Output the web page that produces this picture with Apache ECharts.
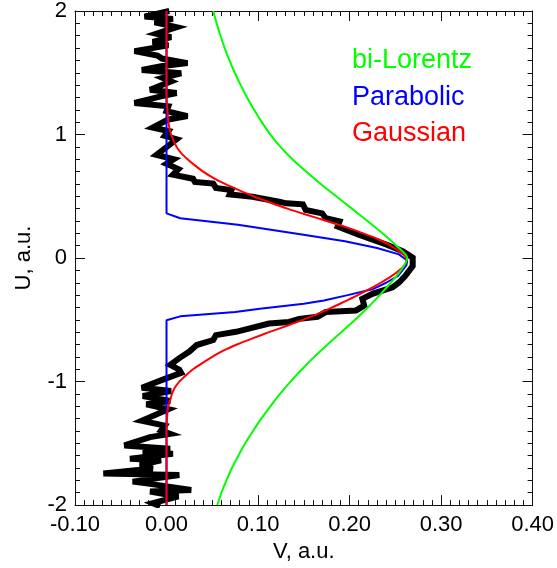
<!DOCTYPE html>
<html>
<head>
<meta charset="utf-8">
<script src="https://cdn.jsdelivr.net/npm/echarts@6/dist/echarts.min.js"></script>
<style>
html,body{margin:0;padding:0;background:#fff;}
#chart{width:557px;height:568px;}
</style>
</head>
<body>
<div id="chart"></div>
<script>
// ---- Data (x = V, y = U) ----
const xTicks = [-0.10, 0.00, 0.10, 0.20, 0.30, 0.40];
const yTicks = [-2, -1, 0, 1, 2];
const legendNames = ["bi-Lorentz", "Parabolic", "Gaussian"];

const dataU = [2.00,1.955,1.936,1.909,1.869,1.816,1.789,1.749,1.722,1.675,1.640,1.615,1.578,1.552,1.522,1.496,1.458,1.430,1.362,1.336,1.309,1.256,1.229,1.189,1.149,1.122,1.056,1.029,0.989,0.962,0.909,0.835,0.800,0.763,0.720,0.675,0.642,0.616,0.603,0.568,0.550,0.515,0.496,0.456,0.443,0.435,0.390,0.362,0.322,0.296,0.256,0.190,0.110,0.056,0.003,-0.064,-0.144,-0.198,-0.237,-0.290,-0.330,-0.384,-0.424,-0.437,-0.475,-0.492,-0.517,-0.530,-0.570,-0.597,-0.624,-0.664,-0.704,-0.757,-0.810,-0.864,-0.904,-0.930,-0.984,-1.050,-1.077,-1.117,-1.157,-1.184,-1.224,-1.317,-1.357,-1.397,-1.424,-1.450,-1.517,-1.544,-1.570,-1.584,-1.624,-1.637,-1.677,-1.704,-1.744,-1.757,-1.810,-1.824,-1.877,-1.890,-1.930,-1.984,-2.010];
const dataV = [0.003,-0.024,0.007,-0.013,0.011,-0.011,0.005,-0.015,0.002,-0.035,-0.010,-0.005,0.023,-0.006,-0.027,0.016,-0.004,0.005,-0.018,0.011,-0.006,-0.035,0.002,0.000,0.023,0.002,-0.015,0.002,-0.002,0.011,0.002,-0.011,0.008,0.000,0.013,0.007,0.029,0.031,0.051,0.054,0.071,0.069,0.094,0.123,0.131,0.149,0.152,0.170,0.174,0.189,0.187,0.210,0.240,0.258,0.269,0.269,0.261,0.254,0.247,0.225,0.214,0.216,0.207,0.174,0.165,0.145,0.134,0.112,0.091,0.076,0.054,0.051,0.033,0.025,0.014,0.004,0.014,0.016,-0.004,-0.027,0.005,-0.026,0.004,-0.022,0.002,-0.027,-0.002,-0.006,0.004,-0.018,-0.046,0.004,-0.026,0.007,-0.040,-0.006,-0.029,-0.015,-0.069,0.014,-0.037,-0.022,0.027,-0.018,0.013,-0.015,-0.007];

const lorU = [2.0,1.9,1.8,1.7,1.6,1.5,1.4,1.3,1.2,1.1,1.0,0.9,0.8,0.7,0.6,0.5,0.4,0.3,0.2,0.1,0.0,-0.1,-0.2,-0.3,-0.4,-0.5,-0.6,-0.7,-0.8,-0.9,-1.0,-1.1,-1.2,-1.3,-1.4,-1.5,-1.6,-1.7,-1.8,-1.9,-2.0];
const lorV = [0.0510,0.0548,0.0590,0.0636,0.0688,0.0746,0.0810,0.0880,0.0957,0.1041,0.1135,0.1245,0.1375,0.1525,0.1685,0.1855,0.2025,0.2195,0.2360,0.2510,0.2630,0.2560,0.2450,0.2330,0.2200,0.2060,0.1910,0.1760,0.1615,0.1480,0.1355,0.1240,0.1135,0.1035,0.0945,0.0860,0.0785,0.0715,0.0655,0.0600,0.0555];

const parU = [2.0,0.362,0.322,0.27,0.19,0.136,0.082,0.03,-0.02,-0.06,-0.144,-0.2,-0.25,-0.3,-0.344,-0.37,-0.41,-0.437,-0.472,-0.504,-2.0];
const parV = [0,0,0.015,0.078,0.148,0.195,0.230,0.254,0.263,0.262,0.253,0.240,0.226,0.198,0.172,0.150,0.102,0.075,0.015,0,0];

const gauU = [2.0,1.3,1.2,1.1,1.0,0.9,0.85,0.8,0.75,0.7,0.65,0.6,0.55,0.5,0.45,0.4,0.35,0.3,0.25,0.2,0.15,0.1,0.05,0.0,-0.05,-0.1,-0.15,-0.2,-0.25,-0.3,-0.35,-0.4,-0.45,-0.5,-0.55,-0.6,-0.65,-0.7,-0.75,-0.8,-0.85,-0.9,-0.95,-1.0,-1.05,-1.1,-1.15,-1.2,-1.25,-1.3,-1.35,-1.4,-2.0];
const gauV = [0,0,0.001,0.002,0.005,0.011,0.016,0.023,0.031,0.040,0.051,0.064,0.079,0.095,0.113,0.132,0.153,0.175,0.196,0.215,0.232,0.245,0.255,0.262,0.261,0.254,0.245,0.234,0.222,0.209,0.195,0.181,0.166,0.149,0.131,0.112,0.094,0.077,0.062,0.050,0.039,0.029,0.021,0.014,0.009,0.006,0.004,0.002,0.001,0.0005,0.0002,0,0];

function pairs(vs, us){ return vs.map((v,i)=>[v, us[i]]); }

const FONT = '"Liberation Sans", Arial, Helvetica, sans-serif';
const axisCol = '#111';
const xMin = xTicks[0], xMax = xTicks[xTicks.length-1];
const yMin = yTicks[0], yMax = yTicks[yTicks.length-1];

function xAx(pos, labels){
  return {
    type:'value', position:pos, min:xMin, max:xMax, interval:0.1,
    axisLine:{show:true, onZero:false, lineStyle:{color:axisCol, width:1}},
    axisTick:{show:true, inside:true, length:10, lineStyle:{color:axisCol, width:1}},
    minorTick:{show:true, splitNumber:10, length:5, lineStyle:{color:axisCol, width:1}},
    splitLine:{show:false},
    axisLabel:{show:labels, fontSize:22, color:'#000', fontFamily:FONT, margin:9,
      formatter:(v)=>v.toFixed(2)},
    name: labels ? 'V, a.u.' : '', nameLocation:'middle', nameGap:33,
    nameTextStyle:{fontSize:22, color:'#000', fontFamily:FONT}
  };
}
function yAx(pos, labels){
  return {
    type:'value', position:pos, min:yMin, max:yMax, interval:1,
    axisLine:{show:true, onZero:false, lineStyle:{color:axisCol, width:1}},
    axisTick:{show:true, inside:true, length:10, lineStyle:{color:axisCol, width:1}},
    minorTick:{show:true, splitNumber:10, length:5, lineStyle:{color:axisCol, width:1}},
    splitLine:{show:false},
    axisLabel:{show:labels, fontSize:22, color:'#000', fontFamily:FONT, margin:8,
      formatter:(v)=>String(Math.round(v))},
    name: labels ? 'U, a.u.' : '', nameLocation:'middle', nameGap:40,
    nameTextStyle:{fontSize:22, color:'#000', fontFamily:FONT}
  };
}

const chart = echarts.init(document.getElementById('chart'), null, {renderer:'canvas'});
const lineSeries = (name, data, color, width, extra) => Object.assign({
  name, type:'line', data, showSymbol:false, symbol:'none', animation:false,
  xAxisIndex:0, yAxisIndex:0, clip:true,
  lineStyle:{color, width}
}, extra||{});

chart.setOption({
  animation:false,
  backgroundColor:'#fff',
  grid:{left:75, right:23, top:7, bottom:61, containLabel:false},
  xAxis:[xAx('bottom', true), xAx('top', false)],
  yAxis:[yAx('left', true), yAx('right', false)],
  series:[
    lineSeries('data', pairs(dataV, dataU), '#000', 6, {lineStyle:{color:'#000', width:6, join:'miter', miterLimit:4}}),
    lineSeries(legendNames[1], pairs(parV, parU), '#0000ff', 2),
    lineSeries(legendNames[2], pairs(gauV, gauU), '#ff0000', 2, {smooth:0.3}),
    lineSeries(legendNames[0], pairs(lorV, lorU), '#00ff00', 2, {smooth:0.3})
  ],
  graphic:[
    {type:'text', x:352, y:61, z:100, style:{text:legendNames[0], fill:'#00ff00', fontSize:27, fontFamily:FONT, verticalAlign:'middle'}},
    {type:'text', x:352, y:98, z:100, style:{text:legendNames[1], fill:'#0000ff', fontSize:27, fontFamily:FONT, verticalAlign:'middle'}},
    {type:'text', x:352, y:134, z:100, style:{text:legendNames[2], fill:'#ff0000', fontSize:27, fontFamily:FONT, verticalAlign:'middle'}}
  ]
});
</script>
</body>
</html>
